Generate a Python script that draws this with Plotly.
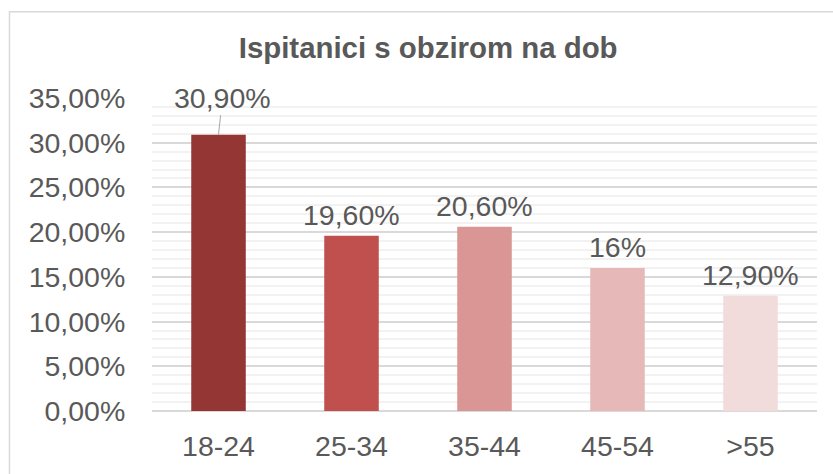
import plotly.graph_objects as go

# podaci s grafikona
age_groups = ["18-24", "25-34", "35-44", "45-54", ">55"]
shares = [0.309, 0.196, 0.206, 0.16, 0.129]
share_labels = ["30,90%", "19,60%", "20,60%", "16%", "12,90%"]
bar_colors = ["#943634", "#C0504D", "#D99694", "#E6B9B8", "#F2DCDB"]

TEXT = "#595959"
FONT = "Liberation Sans, Arial, sans-serif"
FS = 28.5

fig = go.Figure()
fig.add_trace(go.Bar(x=age_groups, y=shares, marker_color=bar_colors,
                     marker_line_width=0, hoverinfo="skip"))

# data labels, first one sits higher with a leader line
for i in range(len(age_groups)):
    if i == 0:
        fig.add_annotation(x=age_groups[i], y=shares[i], text=share_labels[i],
                           showarrow=True, arrowhead=0, arrowwidth=1, arrowcolor="#A6A6A6",
                           ax=4, ay=-37, font=dict(family=FONT, size=FS, color=TEXT))
    else:
        fig.add_annotation(x=age_groups[i], y=shares[i], text=share_labels[i],
                           showarrow=False, yanchor="bottom", yshift=3,
                           font=dict(family=FONT, size=FS, color=TEXT))

# light border around the chart area
fig.add_shape(type="rect", xref="paper", yref="paper", x0=-0.2143, x1=1.2,
              y0=-0.4, y1=1.2752, line=dict(color="#D9D9D9", width=1.5),
              fillcolor="rgba(0,0,0,0)", layer="below")

fig.update_layout(
    width=833, height=474,
    margin=dict(l=152, r=16, t=98, b=61),
    paper_bgcolor="white", plot_bgcolor="white",
    separators=",.",
    bargap=0.59,
    showlegend=False,
    font=dict(family=FONT, size=FS, color=TEXT),
    title=dict(text="<b>Ispitanici s obzirom na dob</b>", x=0.514, xanchor="center",
               y=1 - 48 / 474, yanchor="middle",
               font=dict(family=FONT, size=29.4, color=TEXT)),
)
fig.update_yaxes(range=[0, 0.35], dtick=0.05, tickformat=".2%",
                 showgrid=True, gridcolor="#D9D9D9", gridwidth=1.5,
                 zeroline=True, zerolinecolor="#D9D9D9", zerolinewidth=1.5,
                 minor=dict(dtick=0.01, showgrid=True, gridcolor="#F2F2F2", gridwidth=1.5),
                 ticks="outside", ticklen=0, ticklabelstandoff=20,
                 tickfont=dict(family=FONT, size=FS, color=TEXT))
fig.update_xaxes(showgrid=False, showline=False, ticks="outside", ticklen=0,
                 ticklabelstandoff=10, tickfont=dict(family=FONT, size=FS, color=TEXT))

# page margin off so the figure fills the window
fig.write_html("out.html", config={"displayModeBar": False},
               post_script="document.body.style.margin='0';document.body.style.overflow='hidden';")
